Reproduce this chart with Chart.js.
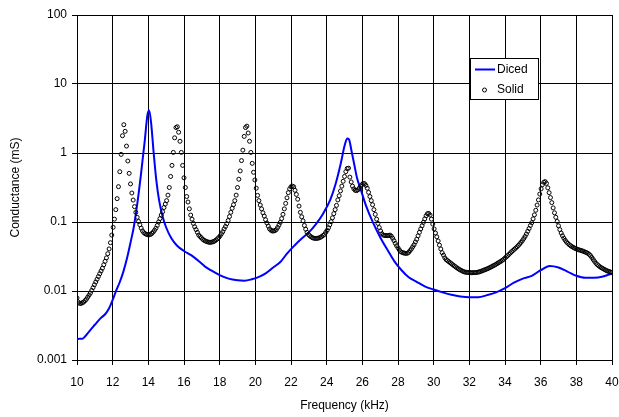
<!DOCTYPE html>
<html><head><meta charset="utf-8">
<script src="https://cdn.jsdelivr.net/npm/chart.js@4"></script>
<style>html,body{margin:0;padding:0;background:#fff}#wrap{width:619px;height:417px}</style>
</head><body><div id="wrap"><canvas id="c" width="619" height="417"></canvas></div>
<script>
// ---- data (conductance in mS, frequency in kHz) ----
const solidStartKHz = 10;
const solidStepKHz = 0.075;
const solidValues = [
0.00794,0.00692,0.00661,0.00661,0.00676,0.00692,0.00724,0.00759,0.00813,0.00871,
0.00933,0.0102,0.0112,0.0123,0.0135,0.0148,0.0162,0.0178,0.0195,0.0214,
0.0240,0.0269,0.0302,0.0347,0.0407,0.0501,0.0646,0.0837,0.110,0.151,
0.218,0.325,0.536,0.955,1.78,2.57,2.06,1.26,0.766,0.507,
0.356,0.263,0.208,0.167,0.138,0.117,0.102,0.0912,0.0813,0.0741,
0.0700,0.0676,0.0661,0.0653,0.0653,0.0661,0.0684,0.0716,0.0759,0.0813,
0.0891,0.100,0.112,0.126,0.141,0.162,0.182,0.204,0.245,0.316,
0.457,0.661,1.02,1.66,2.34,2.40,2.00,1.48,1.02,0.661,
0.437,0.316,0.234,0.195,0.155,0.126,0.110,0.0955,0.0851,0.0776,
0.0708,0.0646,0.0617,0.0589,0.0562,0.0543,0.0531,0.0519,0.0513,0.0507,
0.0507,0.0513,0.0519,0.0531,0.0550,0.0569,0.0596,0.0631,0.0676,0.0724,
0.0794,0.0861,0.0944,0.105,0.120,0.138,0.158,0.178,0.204,0.245,
0.316,0.417,0.550,0.776,1.10,1.74,2.34,2.45,1.95,1.48,
1.02,0.708,0.525,0.407,0.309,0.243,0.204,0.176,0.155,0.136,
0.122,0.108,0.0966,0.0871,0.0794,0.0759,0.0741,0.0741,0.0750,0.0776,
0.0832,0.0902,0.0989,0.112,0.129,0.155,0.186,0.224,0.266,0.302,
0.324,0.331,0.324,0.288,0.251,0.214,0.170,0.138,0.119,0.104,
0.0891,0.0785,0.0708,0.0661,0.0631,0.0610,0.0592,0.0583,0.0579,0.0578,
0.0581,0.0589,0.0600,0.0617,0.0638,0.0661,0.0708,0.0759,0.0822,0.0912,
0.101,0.115,0.132,0.151,0.174,0.209,0.240,0.282,0.331,0.389,
0.457,0.537,0.596,0.603,0.447,0.380,0.331,0.302,0.288,0.285,
0.292,0.309,0.331,0.347,0.363,0.359,0.339,0.309,0.269,0.234,
0.204,0.178,0.151,0.129,0.110,0.0955,0.0832,0.0741,0.0676,0.0646,
0.0638,0.0634,0.0634,0.0638,0.0646,0.0624,0.0582,0.0537,0.0490,0.0452,
0.0422,0.0394,0.0372,0.0363,0.0357,0.0353,0.0351,0.0353,0.0363,0.0385,
0.0407,0.0437,0.0468,0.0513,0.0562,0.0631,0.0708,0.0794,0.0881,0.0989,
0.111,0.123,0.132,0.133,0.126,0.110,0.0933,0.0794,0.0692,0.0610,
0.0531,0.0462,0.0407,0.0359,0.0331,0.0302,0.0285,0.0275,0.0266,0.0257,
0.0248,0.0240,0.0232,0.0224,0.0217,0.0211,0.0204,0.0200,0.0195,0.0191,
0.0188,0.0187,0.0186,0.0185,0.0185,0.0184,0.0184,0.0185,0.0185,0.0186,
0.0188,0.0190,0.0193,0.0196,0.0200,0.0203,0.0207,0.0211,0.0215,0.0220,
0.0225,0.0231,0.0236,0.0242,0.0249,0.0256,0.0263,0.0270,0.0279,0.0288,
0.0301,0.0313,0.0326,0.0340,0.0356,0.0372,0.0387,0.0403,0.0419,0.0437,
0.0457,0.0481,0.0507,0.0537,0.0575,0.0617,0.0668,0.0733,0.0804,0.0891,
0.0977,0.111,0.127,0.148,0.176,0.209,0.254,0.302,0.347,0.376,
0.385,0.363,0.313,0.266,0.226,0.191,0.160,0.136,0.117,0.102,
0.0881,0.0776,0.0692,0.0631,0.0582,0.0543,0.0513,0.0490,0.0470,0.0454,
0.0440,0.0429,0.0419,0.0410,0.0403,0.0396,0.0391,0.0386,0.0380,0.0373,
0.0366,0.0360,0.0351,0.0339,0.0324,0.0305,0.0285,0.0268,0.0252,0.0241,
0.0232,0.0224,0.0218,0.0212,0.0207,0.0202,0.0197,0.0194,0.0191,0.0188,
0.0186
];
const dicedFreqs = [
10.0,10.15,10.3,10.45,10.7,11.0,11.3,11.6,11.8,12.0,12.2,12.4,12.6,12.8,
13.0,13.2,13.4,13.6,13.8,13.95,14.05,14.15,14.3,14.45,14.6,14.8,15.0,15.3,15.6,
16.0,16.4,16.8,17.2,17.5,18.0,18.5,19.0,19.4,19.8,20.2,20.6,21.0,21.4,21.8,
22.2,22.6,23.0,23.4,23.8,24.2,24.5,24.8,25.0,25.15,25.25,25.4,25.55,25.7,25.9,
26.2,26.6,27.0,27.4,27.8,28.2,28.6,29.0,29.5,30.0,30.5,31.0,31.5,32.0,32.5,
33.0,33.5,34.0,34.5,35.0,35.5,36.0,36.5,37.0,37.5,38.0,38.5,39.0,39.5,40.0
];
const dicedValues = [
0.00200,0.00204,0.00204,0.00219,0.00263,0.00324,0.00398,0.00468,0.00562,0.00741,0.0102,0.0135,0.0191,0.0295,
0.0501,0.0891,0.200,0.525,1.51,3.55,4.12,2.82,1.00,0.398,0.209,0.120,0.0832,0.0575,0.0457,
0.0380,0.0331,0.0275,0.0224,0.0200,0.0170,0.0151,0.0143,0.0141,0.0148,0.0160,0.0182,0.0219,0.0263,0.0355,
0.0457,0.0575,0.0708,0.0933,0.132,0.209,0.355,0.724,1.26,1.62,1.58,1.05,0.676,0.437,0.302,
0.174,0.0977,0.0603,0.0398,0.0269,0.0200,0.0158,0.0138,0.0117,0.0105,0.00955,0.00881,0.00832,0.00813,0.00813,
0.00871,0.00955,0.0110,0.0132,0.0151,0.0166,0.0200,0.0230,0.0219,0.0191,0.0166,0.0155,0.0155,0.0162,0.0180
];
const xTickValues = [10,12,14,16,18,20,22,24,26,28,30,32,34,36,38,40];
const yTickValues = [0.001,0.01,0.1,1,10,100];
const yTickLabels = ['0.001','0.01','0.1','1','10','100'];
const seriesNames = ['Diced','Solid'];
const xTitle = 'Frequency (kHz)';
const yTitle = 'Conductance (mS)';

// ---- chart ----
Chart.defaults.font.family = "'Liberation Sans', Arial, sans-serif";
Chart.defaults.font.size = 12;
Chart.defaults.color = '#000';

const solidPoints = solidValues.map((v, i) => ({x: solidStartKHz + i * solidStepKHz, y: v}));
const dicedPoints = dicedFreqs.map((f, i) => ({x: f, y: dicedValues[i]}));

const legendBox = {
  id: 'legendBox',
  afterDraw(chart) {
    const c = chart.ctx;
    const x = 470, y = 58, w = 68, h = 41;
    c.save();
    c.fillStyle = '#fff';
    c.fillRect(x, y, w, h);
    c.strokeStyle = '#000';
    c.lineWidth = 1;
    c.strokeRect(x + 0.5, y + 0.5, w, h);
    const dDiced = chart.data.datasets[1];
    const dSolid = chart.data.datasets[0];
    c.strokeStyle = dDiced.borderColor;
    c.lineWidth = dDiced.borderWidth;
    c.beginPath(); c.moveTo(475, 69.5); c.lineTo(495, 69.5); c.stroke();
    c.fillStyle = '#000';
    c.font = "12px 'Liberation Sans', Arial, sans-serif";
    c.textBaseline = 'middle';
    c.textAlign = 'left';
    c.fillText(dDiced.label, 497, 69.5);
    c.strokeStyle = '#000';
    c.lineWidth = dSolid.pointBorderWidth;
    c.beginPath(); c.arc(484.5, 90, dSolid.pointRadius, 0, Math.PI * 2); c.stroke();
    c.fillText(dSolid.label, 497, 90);
    c.restore();
  }
};

new Chart(document.getElementById('c').getContext('2d'), {
  type: 'scatter',
  data: {
    datasets: [
      {
        label: seriesNames[1], data: solidPoints, showLine: false,
        pointStyle: 'circle', pointRadius: 2, pointHoverRadius: 2,
        pointBorderWidth: 1, pointBorderColor: '#000',
        pointBackgroundColor: 'rgba(0,0,0,0)', order: 0
      },
      {
        label: seriesNames[0], data: dicedPoints, showLine: true,
        borderColor: '#0000ff', borderWidth: 2, pointRadius: 0, pointHoverRadius: 0,
        cubicInterpolationMode: 'monotone', order: 1
      }
    ]
  },
  options: {
    responsive: false, animation: false, devicePixelRatio: 1, events: [],
    layout: {padding: {left: 0, top: 15, right: 7, bottom: 0}},
    plugins: {legend: {display: false}, tooltip: {enabled: false}},
    scales: {
      x: {
        type: 'linear', min: 10, max: 40,
        afterBuildTicks: s => { s.ticks = xTickValues.map(v => ({value: v})); },
        afterFit: s => { s.height = 57; s.paddingLeft = 0; s.paddingRight = 0; },
        grid: {color: '#000', lineWidth: 1, tickLength: 5, drawTicks: true},
        border: {color: '#000', width: 1},
        ticks: {padding: 10, color: '#000', maxRotation: 0, autoSkip: false},
        title: {display: true, text: xTitle, color: '#000', padding: {top: 0, bottom: 4}}
      },
      y: {
        type: 'logarithmic', min: 0.001, max: 100,
        afterBuildTicks: s => { s.ticks = yTickValues.map(v => ({value: v})); },
        afterFit: s => { s.width = 77; s.paddingTop = 0; s.paddingBottom = 0; },
        grid: {color: '#000', lineWidth: 1, tickLength: 5, drawTicks: true},
        border: {color: '#000', width: 1},
        ticks: {padding: 5, color: '#000', autoSkip: false, callback: (v, i) => yTickLabels[i]},
        title: {display: true, text: yTitle, color: '#000', padding: {top: 8, bottom: 0}}
      }
    }
  },
  plugins: [legendBox]
});
</script></body></html>
